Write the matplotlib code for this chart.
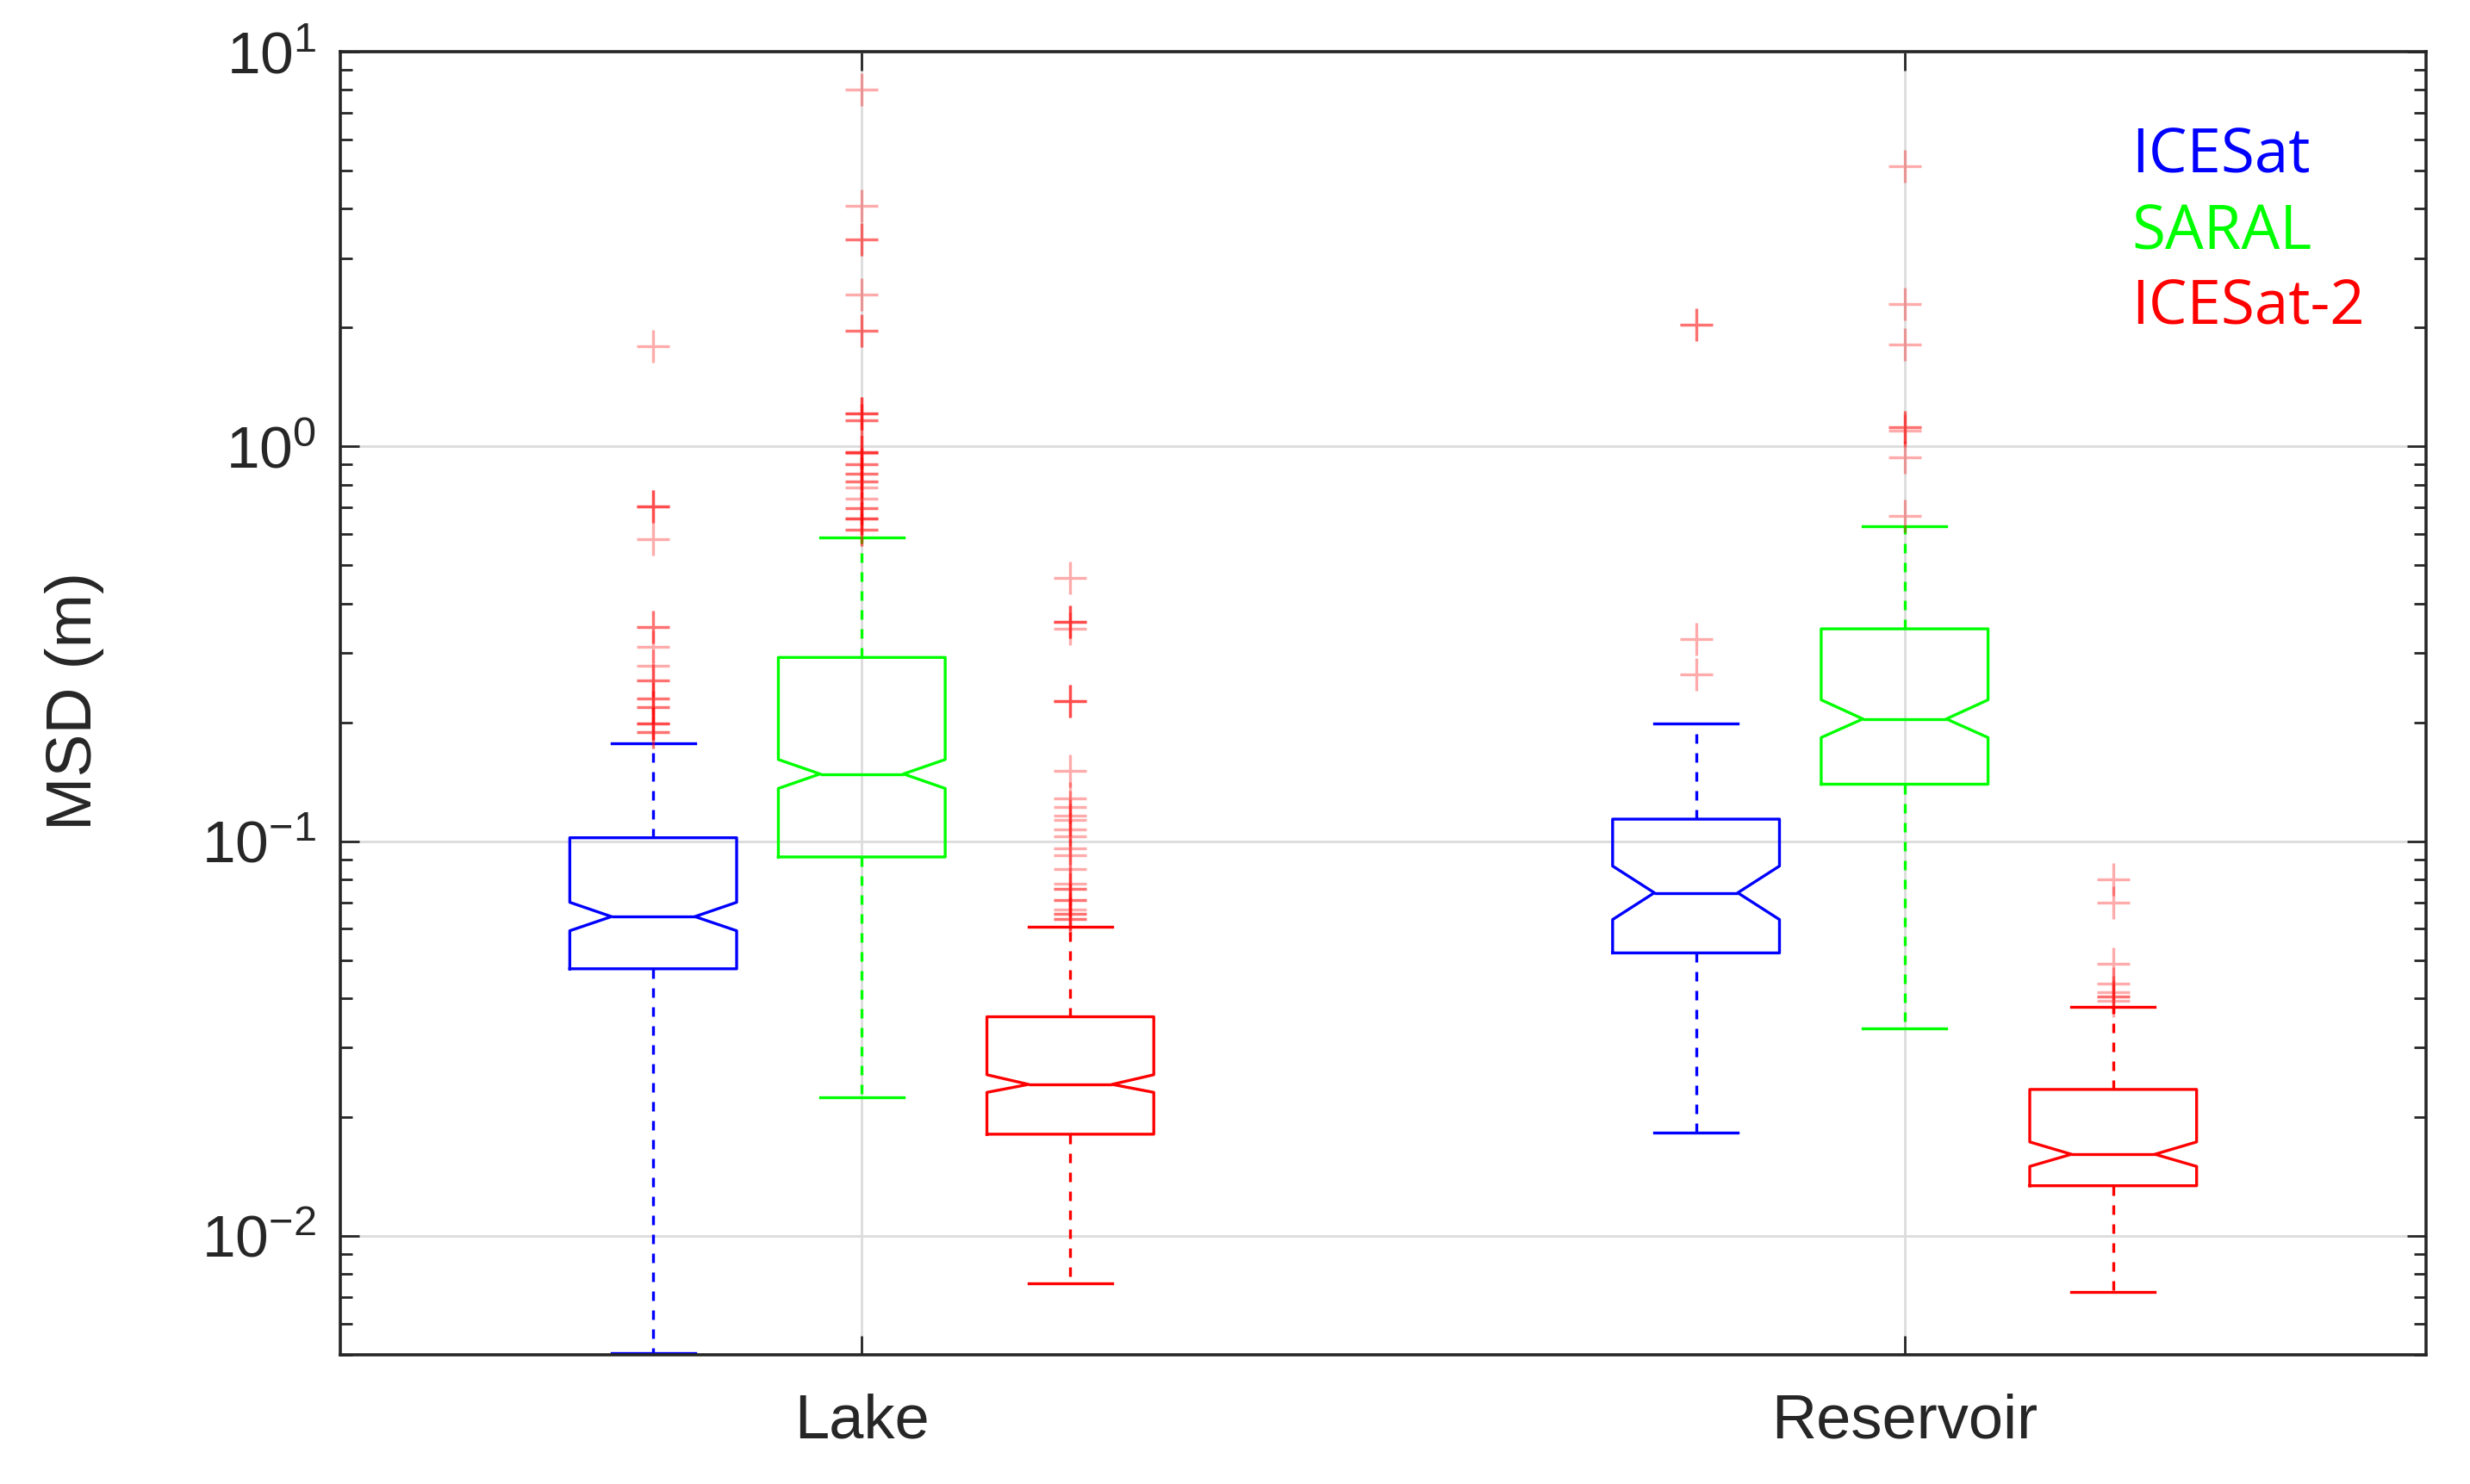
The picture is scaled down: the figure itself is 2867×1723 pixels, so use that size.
import matplotlib.pyplot as plt
import numpy as np

plt.rcParams['font.family'] = ['Liberation Sans', 'DejaVu Sans']
plt.rcParams['mathtext.default'] = 'regular'
plt.rcParams['axes.unicode_minus'] = False

# categories and sensors
categories = ['Lake', 'Reservoir']
sensors = ['ICESat', 'SARAL', 'ICESat-2']

# box statistics, order: Lake (ICESat, SARAL, ICESat-2), Reservoir (ICESat, SARAL, ICESat-2)
medians = [0.0644, 0.148, 0.0242, 0.0740, 0.204, 0.0161]
q1 = [0.0475, 0.0912, 0.0181, 0.0521, 0.1394, 0.0134]
q3 = [0.102, 0.292, 0.0359, 0.1137, 0.345, 0.0235]
whislo = [0.00505, 0.0224, 0.0076, 0.0183, 0.0336, 0.0072]
whishi = [0.1766, 0.589, 0.0606, 0.199, 0.627, 0.0381]
notch_lo = [0.0593, 0.136, 0.0231, 0.0633, 0.183, 0.0150]
notch_hi = [0.0700, 0.161, 0.0256, 0.0865, 0.228, 0.0173]

# outliers
lake_icesat_out = [1.79, 0.703, 0.703, 0.703, 0.581, 0.348, 0.348, 0.31, 0.278,
                   0.256, 0.256, 0.23, 0.23, 0.219, 0.219, 0.199, 0.199, 0.199,
                   0.189, 0.189]
lake_saral_out = [8.0, 4.06, 3.34, 3.34, 2.43, 1.96, 1.96, 1.213, 1.213, 1.213,
                  1.164, 1.164, 0.965, 0.965, 0.965, 0.96, 0.899, 0.899, 0.851,
                  0.851, 0.817, 0.817, 0.785, 0.738, 0.699, 0.699, 0.657, 0.657,
                  0.657, 0.614, 0.614]
lake_icesat2_out = [0.464, 0.36, 0.36, 0.36, 0.346, 0.226, 0.226, 0.226, 0.151,
                    0.128, 0.122, 0.116, 0.113, 0.107, 0.103, 0.096, 0.092, 0.085,
                    0.078, 0.0757, 0.0757, 0.0708, 0.0708, 0.067, 0.0653, 0.0653,
                    0.0634, 0.0634]
res_icesat_out = [2.03, 2.03, 0.325, 0.265]
res_saral_out = [5.13, 2.29, 1.81, 1.118, 1.118, 1.094, 0.936, 0.665]
res_icesat2_out = [0.080, 0.070, 0.0489, 0.0436, 0.0415, 0.0405, 0.0405, 0.0394]

outliers = [lake_icesat_out, lake_saral_out, lake_icesat2_out,
            res_icesat_out, res_saral_out, res_icesat2_out]

colors = ['#0000ff', '#00ff00', '#ff0000']
dark = '#262626'

fig = plt.figure(figsize=(14.335, 8.615), dpi=200)
ax = fig.add_axes([0.1378, 0.0871, 0.8444, 0.8781])

positions = []
box_colors = []
for i in range(len(categories)):
    for j in range(len(sensors)):
        positions.append(i + 1 + (j - 1) * 0.2)
        box_colors.append(colors[j])

stats = []
for k in range(len(positions)):
    stats.append(dict(med=medians[k], q1=q1[k], q3=q3[k], whislo=whislo[k],
                      whishi=whishi[k], cilo=notch_lo[k], cihi=notch_hi[k],
                      fliers=np.array(outliers[k])))

lw = 1.2
res = ax.bxp(stats, positions=positions, widths=0.16, shownotches=True,
             showfliers=True, manage_ticks=False,
             boxprops=dict(linewidth=lw),
             whiskerprops=dict(linewidth=lw, linestyle=(0, (3.3, 3.3))),
             capprops=dict(linewidth=lw),
             medianprops=dict(linewidth=lw),
             flierprops=dict(marker='+', markersize=14, markeredgewidth=1.2,
                             markeredgecolor='red', alpha=0.33, linestyle='none'))

for k, c in enumerate(box_colors):
    res['boxes'][k].set_color(c)
    res['medians'][k].set_color(c)
    for n in (2 * k, 2 * k + 1):
        res['whiskers'][n].set_color(c)
        res['caps'][n].set_color(c)

ax.set_yscale('log')
ax.set_ylim(0.005, 10)
ax.set_xlim(0.5, 2.5)
ax.set_xticks([1, 2], categories)
ax.xaxis.set_minor_locator(plt.NullLocator())

ax.set_axisbelow(True)
ax.grid(True, which='major', color='#dcdcdc', linewidth=1.0)

ax.tick_params(which='both', direction='in', top=True, right=True, color=dark,
               labelcolor=dark)
ax.tick_params(which='major', length=8, width=1.0)
ax.tick_params(which='minor', length=5, width=1.0)
ax.tick_params(axis='y', labelsize=25, pad=10)
ax.tick_params(axis='x', labelsize=26, pad=16)
for s in ax.spines.values():
    s.set_color(dark)
    s.set_linewidth(1.3)

fig.text(0.030, 0.5276, 'MSD (m)', rotation=90, ha='center', va='center',
         fontsize=27, color=dark)

legend_y = [0.9068, 0.8486, 0.7905]
for name, c, y in zip(sensors, colors, legend_y):
    ax.text(0.8587, y, name, color=c, transform=ax.transAxes,
            family=['Open Sans', 'DejaVu Sans'], fontsize=25.5, va='baseline')

fig.savefig('out.png', dpi=200)
